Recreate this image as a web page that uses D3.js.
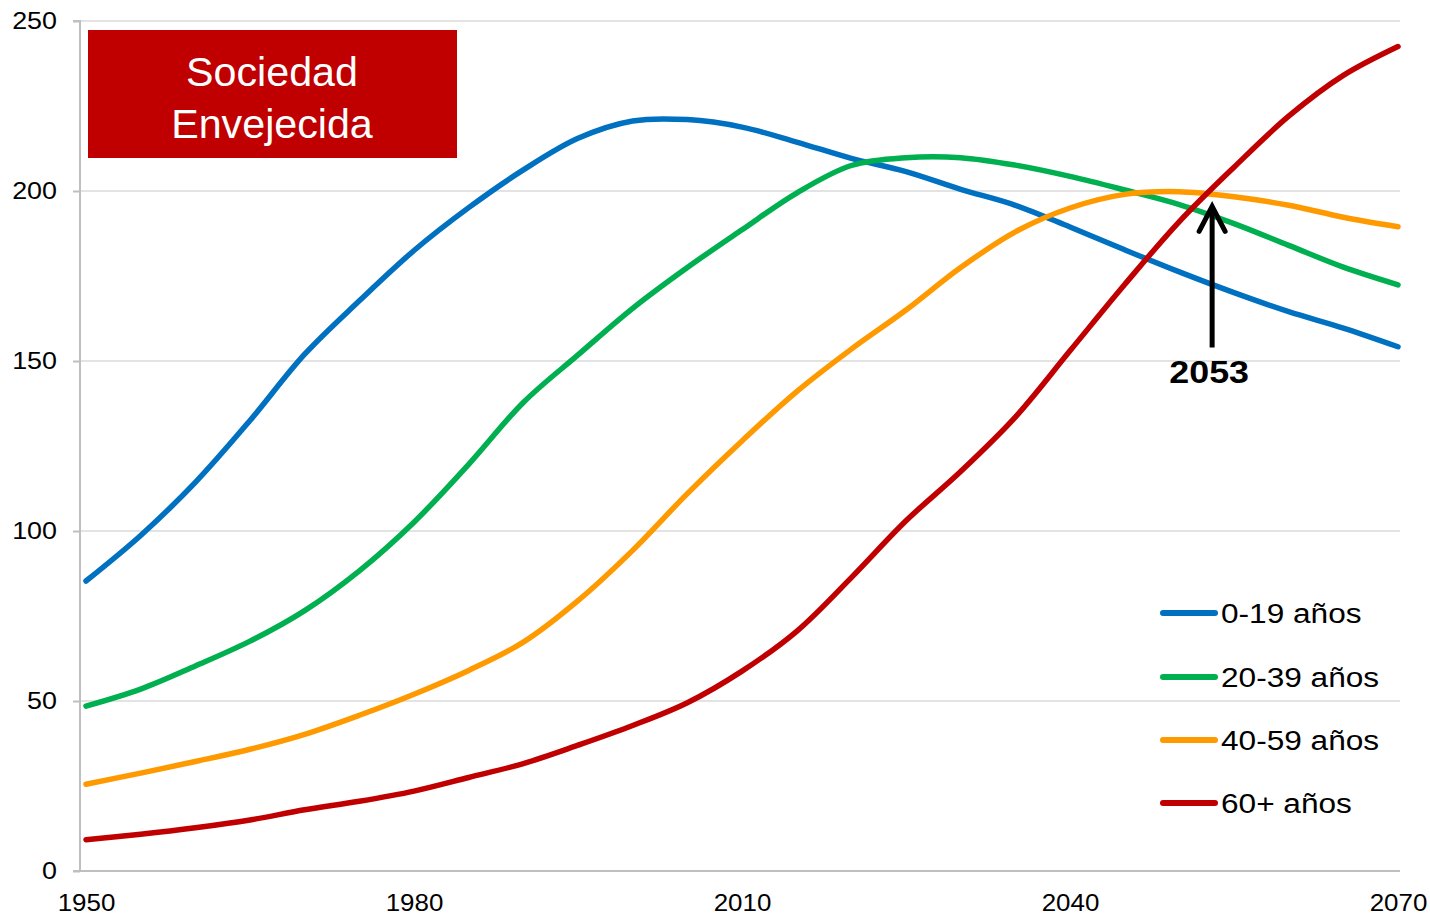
<!DOCTYPE html>
<html>
<head>
<meta charset="utf-8">
<script src="https://cdn.jsdelivr.net/npm/d3@7"></script>
<style>
  html, body { margin: 0; padding: 0; background: #fff; }
  svg { display: block; font-family: "Liberation Sans", Arial, sans-serif; }
</style>
</head>
<body>
<svg id="chart" width="1430" height="916"></svg>
<script>
const years = [1950,1955,1960,1965,1970,1975,1980,1985,1990,1995,2000,2005,2010,2015,2020,2025,2030,2035,2040,2045,2050,2055,2060,2065,2070];
const age0_19  = [85.3,98.7,114.3,132.5,152.0,167.7,182.5,195.1,206.2,215.5,220.6,221.0,218.8,214.4,209.6,205.7,200.5,195.8,189.4,182.7,176.2,170.1,164.5,159.7,154.2];
const age20_39 = [48.5,53.5,60.3,67.6,76.6,88.3,102.6,119.6,137.8,151.8,165.5,177.5,188.6,199.4,207.5,209.8,209.8,207.6,204.3,200.3,196.0,190.4,184.0,177.6,172.4];
const age40_59 = [25.5,28.8,32.2,35.8,40.2,45.8,52.0,59.0,67.3,79.5,94.3,111.0,126.5,141.0,153.5,165.0,177.5,188.0,195.0,199.0,199.8,198.3,195.8,192.3,189.5];
const age60    = [9.2,10.8,12.7,15.0,18.0,20.5,23.5,27.5,31.6,37.0,42.8,49.5,58.8,70.5,86.3,103.0,117.5,133.5,153.0,172.5,191.0,207.0,222.0,234.0,242.5];

const seriesNames = ["0-19 años","20-39 años","40-59 años","60+ años"];
const seriesColors = ["#0070C0","#00B050","#FF9900","#C00000"];
const seriesValues = [age0_19, age20_39, age40_59, age60];

const yTicks = [0,50,100,150,200,250];
const xTicks = [1950,1980,2010,2040,2070];

const boxLines = ["Sociedad","Envejecida"];
const arrowYear = 2053, arrowTop = 195.5, arrowBottom = 154, arrowLabel = "2053", arrowLabelValue = 143.5;

const svg = d3.select("#chart");
const x = d3.scaleLinear().domain([1950,2070]).range([86,1398]);
const y = d3.scaleLinear().domain([0,250]).range([871,21]);
const plotLeft = 80, plotRight = 1400;

function stretch(sel, f) {
  sel.each(function() {
    const w = this.getComputedTextLength();
    d3.select(this).attr("textLength", w * f).attr("lengthAdjust", "spacingAndGlyphs");
  });
}

// gridlines
svg.append("g").selectAll("line").data(yTicks.filter(d => d > 0)).join("line")
  .attr("x1", plotLeft).attr("x2", plotRight)
  .attr("y1", d => y(d)).attr("y2", d => y(d))
  .attr("stroke", "#E3E3E3").attr("stroke-width", 2);

// y axis
const yAxis = d3.axisLeft(y).tickValues(yTicks).tickSize(7).tickPadding(16).tickFormat(d3.format("d"));
const gy = svg.append("g").attr("transform", `translate(${plotLeft},0)`).call(yAxis);
gy.select(".domain").attr("stroke", "#BFBFBF").attr("stroke-width", 2).attr("d", `M-7,${y(250)}H0V${y(0)}`);
gy.selectAll(".tick line").attr("stroke", "#BFBFBF").attr("stroke-width", 2);
gy.selectAll(".tick text").attr("font-size", 24).attr("fill", "#000").attr("font-family", "Liberation Sans, Arial, sans-serif");
stretch(gy.selectAll(".tick text"), 1.12);

// x axis
const xAxis = d3.axisBottom(x).tickValues(xTicks).tickSize(0).tickPadding(23).tickFormat(d3.format("d"));
const gx = svg.append("g").attr("transform", `translate(0,${y(0)})`).call(xAxis);
gx.select(".domain").attr("stroke", "#BFBFBF").attr("stroke-width", 2).attr("d", `M${plotLeft-7},0H${plotRight}`);
gx.selectAll(".tick text").attr("font-size", 24).attr("fill", "#000").attr("font-family", "Liberation Sans, Arial, sans-serif");
stretch(gx.selectAll(".tick text"), 1.08);

// lines
const line = d3.line().x((d,i) => x(years[i])).y(d => y(d)).curve(d3.curveCatmullRom.alpha(0.5));
svg.append("g").selectAll("path").data(seriesValues).join("path")
  .attr("d", d => line(d))
  .attr("fill", "none")
  .attr("stroke", (d,i) => seriesColors[i])
  .attr("stroke-width", 5.5)
  .attr("stroke-linecap", "round")
  .attr("stroke-linejoin", "round");

// title box
svg.append("rect").attr("x", 88).attr("y", 30).attr("width", 369).attr("height", 128).attr("fill", "#C00000");
const bt = svg.append("g").selectAll("text").data(boxLines).join("text")
  .attr("x", 272).attr("y", (d,i) => 86 + i*52)
  .attr("text-anchor", "middle").attr("fill", "#fff").attr("font-size", 40)
  .text(d => d);
stretch(bt, 1.03);

// arrow
const ax = x(arrowYear);
svg.append("line").attr("x1", ax).attr("x2", ax).attr("y1", y(arrowBottom)).attr("y2", y(arrowTop) + 3)
  .attr("stroke", "#000").attr("stroke-width", 5);
svg.append("path")
  .attr("d", `M${ax-13},${y(arrowTop)+25}L${ax},${y(arrowTop)}L${ax+13},${y(arrowTop)+25}`)
  .attr("fill", "none").attr("stroke", "#000").attr("stroke-width", 5).attr("stroke-linecap", "round").attr("stroke-linejoin", "miter");
const al = svg.append("text").attr("x", ax - 3).attr("y", y(arrowLabelValue)).attr("text-anchor", "middle")
  .attr("font-size", 32).attr("font-weight", "bold").attr("fill", "#000").text(arrowLabel);
stretch(al, 1.12);

// legend
const legY = [613, 677, 740, 803];
const leg = svg.append("g").selectAll("g").data(seriesNames).join("g")
  .attr("transform", (d,i) => `translate(0,${legY[i]})`);
leg.append("line").attr("x1", 1163).attr("x2", 1215).attr("y1", 0).attr("y2", 0)
  .attr("stroke", (d,i) => seriesColors[i]).attr("stroke-width", 6).attr("stroke-linecap", "round");
const lt = leg.append("text").attr("x", 1221).attr("y", 10).attr("font-size", 27).attr("fill", "#000").text(d => d);
stretch(lt, 1.17);
</script>
</body>
</html>
